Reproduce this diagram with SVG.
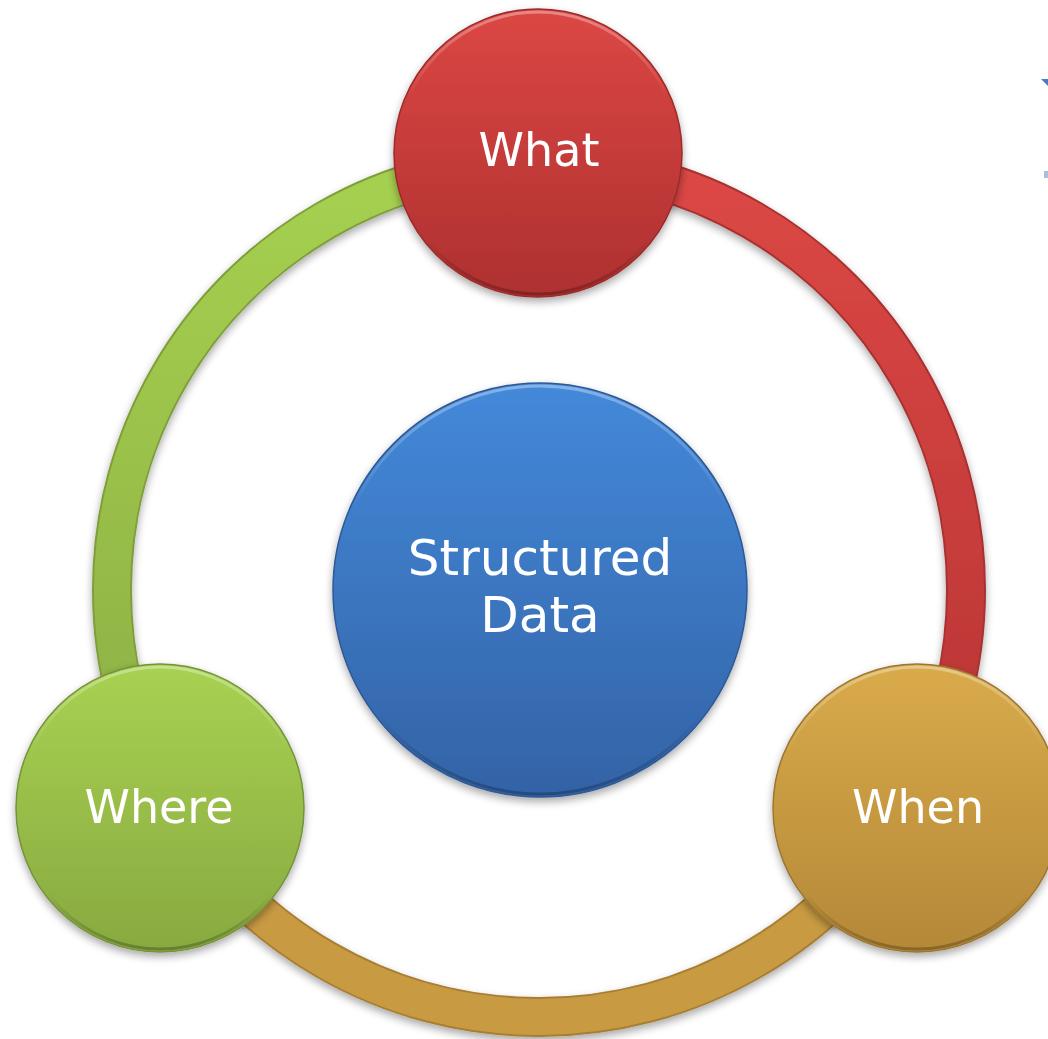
<svg xmlns="http://www.w3.org/2000/svg" width="1048" height="1039" viewBox="0 0 1048 1039">
<style>
.lbl{font-family:"DejaVu Sans","Liberation Sans",sans-serif;fill:#ffffff;text-anchor:middle;font-size:46px}
.big{font-size:50px}
.ring{fill:none;stroke-linecap:butt}
.rim{fill:none;stroke:url(#hl);stroke-width:3}
</style>
<defs>
<filter id="sh" x="-20%" y="-20%" width="140%" height="140%">
<feGaussianBlur in="SourceAlpha" stdDeviation="4"/>
<feOffset dx="0" dy="4" result="b"/>
<feComponentTransfer><feFuncA type="linear" slope="0.35"/></feComponentTransfer>
<feMerge><feMergeNode/><feMergeNode in="SourceGraphic"/></feMerge>
</filter>
<linearGradient id="gRed" x1="0" y1="0" x2="0" y2="1"><stop offset="0" stop-color="#dc4744"/><stop offset="1" stop-color="#ae3030"/></linearGradient>
<linearGradient id="gGreen" x1="0" y1="0" x2="0" y2="1"><stop offset="0" stop-color="#a8d252"/><stop offset="1" stop-color="#88a940"/></linearGradient>
<linearGradient id="gGold" x1="0" y1="0" x2="0" y2="1"><stop offset="0" stop-color="#d9ab4b"/><stop offset="1" stop-color="#b48838"/></linearGradient>
<linearGradient id="gBlue" x1="0" y1="0" x2="0" y2="1"><stop offset="0" stop-color="#4489da"/><stop offset="1" stop-color="#3363a6"/></linearGradient>
<linearGradient id="rGreen" x1="0" y1="0" x2="0" y2="1"><stop offset="0" stop-color="#a6d150"/><stop offset="1" stop-color="#8cae43"/></linearGradient>
<linearGradient id="rRed" x1="0" y1="0" x2="0" y2="1"><stop offset="0" stop-color="#dc4845"/><stop offset="1" stop-color="#b83434"/></linearGradient>
<linearGradient id="rGold" x1="0" y1="0" x2="0" y2="1"><stop offset="0" stop-color="#c99a42"/><stop offset="1" stop-color="#c89a43"/></linearGradient>
<linearGradient id="hl" x1="0" y1="0" x2="0" y2="1"><stop offset="0" stop-color="#ffffff" stop-opacity="0.35"/><stop offset="0.3" stop-color="#ffffff" stop-opacity="0"/><stop offset="0.8" stop-color="#000000" stop-opacity="0"/><stop offset="1" stop-color="#000000" stop-opacity="0.25"/></linearGradient>
</defs>
<rect width="1048" height="1039" fill="#ffffff"/>
<g id="connectors" filter="url(#sh)">
<path class="ring" d="M169.2 803.5 A427 427 0 0 1 539 163" stroke="#7f9e3a" stroke-width="40"/>
<path class="ring" d="M169.2 803.5 A427 427 0 0 1 539 163" stroke="url(#rGreen)" stroke-width="36"/>
<path class="ring" d="M539 163 A427 427 0 0 1 908.8 803.5" stroke="#a83030" stroke-width="40"/>
<path class="ring" d="M539 163 A427 427 0 0 1 908.8 803.5" stroke="url(#rRed)" stroke-width="36"/>
<path class="ring" d="M908.8 803.5 A427 427 0 0 1 169.2 803.5" stroke="#a87f33" stroke-width="40"/>
<path class="ring" d="M908.8 803.5 A427 427 0 0 1 169.2 803.5" stroke="url(#rGold)" stroke-width="36"/>
</g>
<g id="node-what" filter="url(#sh)">
<circle cx="538" cy="153" r="144" fill="url(#gRed)" stroke="#9c2a2a" stroke-width="1.5"/>
<circle class="rim" cx="538" cy="153" r="141"/>
<text class="lbl" x="539" y="166">What</text>
</g>
<g id="node-where" filter="url(#sh)">
<circle cx="160" cy="808" r="144" fill="url(#gGreen)" stroke="#76933a" stroke-width="1.5"/>
<circle class="rim" cx="160" cy="808" r="141"/>
<text class="lbl" x="159" y="823">Where</text>
</g>
<g id="node-when" filter="url(#sh)">
<circle cx="917" cy="808" r="144" fill="url(#gGold)" stroke="#9c7631" stroke-width="1.5"/>
<circle class="rim" cx="917" cy="808" r="141"/>
<text class="lbl" x="918" y="823">When</text>
</g>
<g id="node-center" filter="url(#sh)">
<circle cx="540" cy="590" r="207" fill="url(#gBlue)" stroke="#2d5996" stroke-width="1.5"/>
<circle class="rim" cx="540" cy="590" r="204"/>
<text class="lbl big" x="540" y="575">Structured</text>
<text class="lbl big" x="540" y="632">Data</text>
</g>
<g id="edge-marks">
<polygon points="1041,79 1048,79 1048,86" fill="#4a7cc4"/>
<rect x="1044" y="171" width="4" height="7" fill="#a9bee0"/>
</g>
</svg>
